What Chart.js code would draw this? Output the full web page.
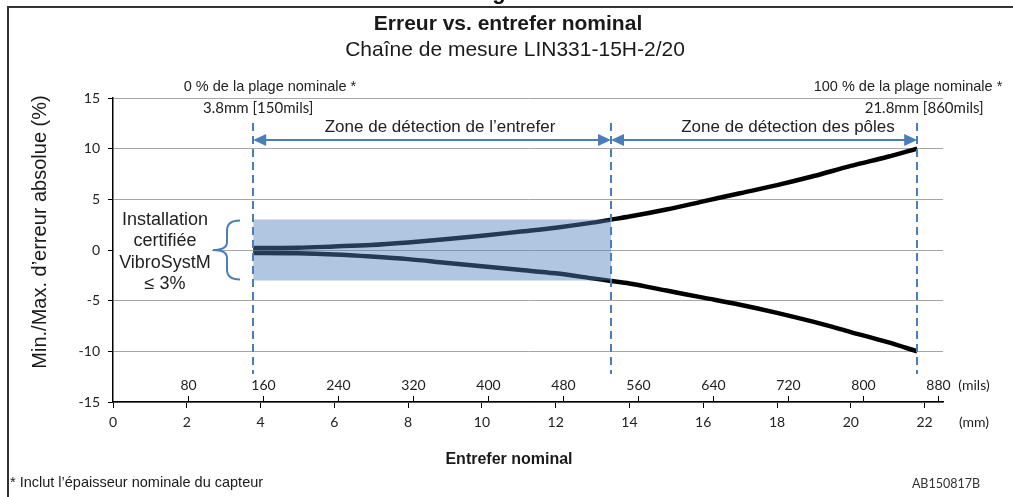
<!DOCTYPE html>
<html><head><meta charset="utf-8">
<script src="https://cdn.jsdelivr.net/npm/chart.js@4/dist/chart.umd.min.js"></script>
<style>html,body{margin:0;padding:0;background:#fff;}canvas{display:block;}</style>
</head><body>
<canvas id="c" width="1013" height="497"></canvas>
<script>
// ---- data ----
const gapMm      = [3.8, 4, 5, 6, 7, 8, 9, 10, 11, 12, 13, 13.5, 14, 15, 16, 17, 18, 19, 20, 21, 21.8];
const maxErr     = [0.2, 0.2, 0.22, 0.35, 0.5, 0.75, 1.05, 1.4, 1.8, 2.2, 2.7, 3.0, 3.3, 4.0, 4.8, 5.6, 6.4, 7.3, 8.3, 9.2, 10.0];
const minErr     = [-0.3, -0.3, -0.33, -0.45, -0.65, -0.9, -1.25, -1.6, -1.95, -2.3, -2.8, -3.05, -3.3, -4.0, -4.7, -5.4, -6.2, -7.1, -8.1, -9.1, -10.0];
const bandX      = [3.8, 13.5];
const bandTop    = [3, 3];
const bandBottom = [-3, -3];
const zoneBounds = [3.8, 13.5, 21.8];
const mmTicks    = [0, 2, 4, 6, 8, 10, 12, 14, 16, 18, 20, 22];
const milsTicks  = [80, 160, 240, 320, 400, 480, 560, 640, 720, 800, 880];
const yTicks     = [-15, -10, -5, 0, 5, 10, 15];
const MM_PER_MIL = 0.0254;

const pts = (xs, ys) => xs.map((x, i) => ({x, y: ys[i]}));
const BLUE = '#4a7ebb';
const ARIAL = '"Liberation Sans", Arial, sans-serif';
const CAL = 'Lato, "Open Sans", sans-serif';

const overlay = {
  id: 'overlay',
  afterDraw(chart) {
    const ctx = chart.ctx, xs = chart.scales.x, ys = chart.scales.y, a = chart.chartArea;
    ctx.save();
    // frame
    ctx.strokeStyle = '#333'; ctx.lineWidth = 2;
    ctx.beginPath(); ctx.moveTo(8, 497); ctx.lineTo(8, 7); ctx.lineTo(1013, 7); ctx.stroke();
    ctx.fillStyle = '#111'; ctx.font = 'bold 22px ' + ARIAL; ctx.textAlign = 'center'; ctx.textBaseline = 'alphabetic';
    ctx.fillText('g', 499, -1);

    // titles
    ctx.fillStyle = '#1a1a1a'; ctx.textBaseline = 'middle';
    ctx.font = 'bold 21px ' + ARIAL; ctx.fillText('Erreur vs. entrefer nominal', 508, 24);
    ctx.font = '21px ' + ARIAL; ctx.fillText('Chaîne de mesure LIN331-15H-2/20', 515, 50);
    ctx.font = 'bold 16px ' + ARIAL; ctx.fillText('Entrefer nominal', 509, 460);
    ctx.textAlign = 'left'; ctx.font = '14.5px ' + ARIAL;
    ctx.fillText('* Inclut l\u2019épaisseur nominale du capteur', 10, 483);
    ctx.font = '12.5px ' + CAL; ctx.textAlign = 'right'; ctx.fillStyle = '#333';
    ctx.fillText('AB150817B', 980, 484);

    // y title
    ctx.save(); ctx.translate(40, 232); ctx.rotate(-Math.PI / 2);
    ctx.textAlign = 'center'; ctx.fillStyle = '#1a1a1a'; ctx.font = '20px ' + ARIAL;
    ctx.fillText('Min./Max. d\u2019erreur absolue (%)', 0, 0);
    ctx.restore();

    // range labels
    ctx.fillStyle = '#222'; ctx.textAlign = 'center';
    ctx.font = '14.5px ' + ARIAL;
    ctx.fillText('0 % de la plage nominale *', 270, 87);
    ctx.fillText('100 % de la plage nominale *', 908, 87);
    ctx.font = '15px ' + CAL;
    ctx.fillText('3.8mm [150mils]', xs.getPixelForValue(zoneBounds[0]) + 5, 108);
    ctx.fillText('21.8mm [860mils]', xs.getPixelForValue(zoneBounds[2]) + 7, 108);

    // zone labels
    ctx.font = '17px ' + ARIAL; ctx.fillStyle = '#222';
    ctx.fillText('Zone de détection de l\u2019entrefer', 440, 127);
    ctx.fillText('Zone de détection des pôles', 788, 127);

    // dashed verticals
    ctx.strokeStyle = BLUE; ctx.lineWidth = 2; ctx.setLineDash([8, 5]);
    zoneBounds.forEach(v => {
      const px = Math.round(xs.getPixelForValue(v));
      ctx.beginPath(); ctx.moveTo(px, 123); ctx.lineTo(px, 374); ctx.stroke();
    });
    ctx.setLineDash([]);

    // arrows
    const ay = Math.round(ys.getPixelForValue(10.85));
    const head = (x, dir) => {
      ctx.beginPath(); ctx.moveTo(x, ay); ctx.lineTo(x + dir * 13, ay - 6); ctx.lineTo(x + dir * 13, ay + 6); ctx.closePath(); ctx.fill();
    };
    ctx.fillStyle = BLUE; ctx.strokeStyle = BLUE; ctx.lineWidth = 2;
    for (let i = 0; i < zoneBounds.length - 1; i++) {
      const x1 = xs.getPixelForValue(zoneBounds[i]), x2 = xs.getPixelForValue(zoneBounds[i + 1]);
      ctx.beginPath(); ctx.moveTo(x1 + 10, ay); ctx.lineTo(x2 - 10, ay); ctx.stroke();
      head(x1, 1); head(x2, -1);
    }

    // certified installation label box
    ctx.fillStyle = '#fff'; ctx.fillRect(114, 205, 98, 90);
    ctx.fillStyle = '#222'; ctx.font = '18px ' + ARIAL; ctx.textAlign = 'center';
    ['Installation', 'certifiée', 'VibroSystM', '\u2264 3%'].forEach((t, i) => ctx.fillText(t, 165, 220 + i * 21.3));
    // brace
    const yt = ys.getPixelForValue(bandTop[0]) + 1, yb = ys.getPixelForValue(bandBottom[0]) - 1, ym = (yt + yb) / 2;
    ctx.strokeStyle = BLUE; ctx.lineWidth = 2;
    ctx.beginPath();
    ctx.moveTo(240, yt);
    ctx.quadraticCurveTo(227, yt, 227, yt + 10);
    ctx.lineTo(227, ym - 8);
    ctx.quadraticCurveTo(227, ym, 213, ym);
    ctx.quadraticCurveTo(227, ym, 227, ym + 8);
    ctx.lineTo(227, yb - 10);
    ctx.quadraticCurveTo(227, yb, 240, yb);
    ctx.stroke();

    // mils secondary scale
    const axisY = a.bottom;
    ctx.strokeStyle = '#000'; ctx.lineWidth = 1; ctx.fillStyle = '#222';
    ctx.font = '14px ' + CAL; ctx.textAlign = 'center';
    milsTicks.forEach(m => {
      const px = Math.round(xs.getPixelForValue(m * MM_PER_MIL)) + 0.5;
      ctx.beginPath(); ctx.moveTo(px, axisY); ctx.lineTo(px, axisY - 6); ctx.stroke();
      ctx.fillText(String(m), px, 385);
    });
    ctx.fillText('(mils)', 974, 385);
    ctx.fillText('(mm)', 974, 422);
    ctx.restore();
  }
};

new Chart(document.getElementById('c'), {
  type: 'line',
  data: {
    datasets: [
      {data: pts(bandX, bandTop), borderWidth: 0, pointRadius: 0, fill: '+1', backgroundColor: 'rgba(79,129,189,0.45)', order: 0},
      {data: pts(bandX, bandBottom), borderWidth: 0, pointRadius: 0, fill: false, order: 0},
      {data: pts(gapMm, maxErr), borderColor: '#000', borderWidth: 4.5, pointRadius: 0, cubicInterpolationMode: 'monotone', fill: false, order: 1},
      {data: pts(gapMm, minErr), borderColor: '#000', borderWidth: 4.5, pointRadius: 0, cubicInterpolationMode: 'monotone', fill: false, order: 1}
    ]
  },
  options: {
    responsive: false, animation: false, devicePixelRatio: 1,
    layout: {padding: {left: 0, right: 70, top: 98, bottom: 0}},
    plugins: {legend: {display: false}, tooltip: {enabled: false}, title: {display: false}},
    scales: {
      x: {
        type: 'linear', min: 0, max: 22.5,
        afterFit: s => { s.height = 95; },
        afterBuildTicks: s => { s.ticks = mmTicks.map(v => ({value: v})); },
        grid: {drawOnChartArea: false, drawTicks: true, tickLength: 6, tickColor: '#000'},
        border: {color: '#000', width: 1.5},
        ticks: {padding: 6, color: '#222', font: {family: CAL, size: 14}, maxRotation: 0, autoSkip: false}
      },
      y: {
        min: -15, max: 15,
        afterFit: s => { s.width = 113; },
        afterBuildTicks: s => { s.ticks = yTicks.map(v => ({value: v})); },
        grid: {color: '#a6a6a6', lineWidth: 1, drawTicks: true, tickLength: 5, tickColor: '#000'},
        border: {color: '#000', width: 1.5},
        ticks: {padding: 8, color: '#222', font: {family: CAL, size: 14}}
      }
    }
  },
  plugins: [overlay]
});
</script>
</body></html>
